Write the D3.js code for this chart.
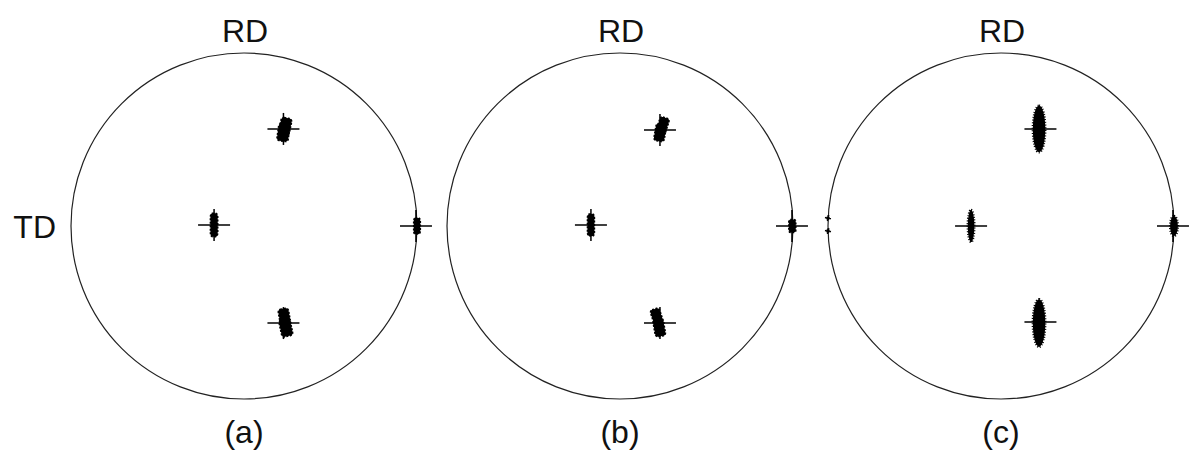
<!DOCTYPE html>
<html>
<head>
<meta charset="utf-8">
<script src="https://cdn.jsdelivr.net/npm/d3@7"></script>
<style>
body { margin: 0; background: #fff; }
text { font-family: "Liberation Sans", Arial, sans-serif; fill: #111; }
</style>
</head>
<body>
<div id="chart"></div>
<script>
let panelLabels = ["(a)", "(b)", "(c)"];
let topLabel = "RD";
let sideLabel = "TD";

// ideal pole positions (+), projection units (-1..1)
let idealA = [[-0.173, 0.006], [0.228, 0.561], [0.228, -0.561], [0.994, 0]];
let idealB = [[-0.168, 0.006], [0.231, 0.555], [0.231, -0.561], [0.994, 0]];
let idealC = [[-0.173, 0], [0.228, 0.561], [0.228, -0.555], [0.994, 0]];

// measured pole clusters: x, y, width, height, tilt (deg)
let clusterA = [
    [-0.173, 0.006, 0.042, 0.135, 0],
    [0.238, 0.575, 0.062, 0.1, 12],
    [0.228, 0.54, 0.065, 0.1, 8],
    [0.234, -0.528, 0.06, 0.1, -10],
    [0.242, -0.588, 0.065, 0.1, -12],
    [1.0, 0, 0.038, 0.092, 0]
];
let clusterB = [
    [-0.168, 0.006, 0.04, 0.127, 0],
    [0.246, 0.578, 0.055, 0.1, 18],
    [0.232, 0.54, 0.06, 0.1, 10],
    [0.214, -0.528, 0.055, 0.1, -18],
    [0.227, -0.588, 0.06, 0.1, -10],
    [0.996, 0, 0.04, 0.075, 0]
];
let clusterC = [
    [-0.173, 0, 0.038, 0.185, 0],
    [0.22, 0.561, 0.072, 0.27, 0],
    [0.22, -0.561, 0.072, 0.276, 0],
    [1.0, 0, 0.045, 0.116, 0],
    [-1.0, 0.046, 0.022, 0.022, 0],
    [-1.0, -0.029, 0.022, 0.022, 0]
];

let ideals = [idealA, idealB, idealC];
let clusters = [clusterA, clusterB, clusterC];

let width = 1192, height = 457;
let centers = [244, 620, 1001];
let cy = 226, R = 173;
let arm = 16;

let svg = d3.select("#chart").append("svg")
    .attr("width", width)
    .attr("height", height);

panelLabels.forEach((label, p) => {
    let x = d3.scaleLinear().domain([-1, 1]).range([centers[p] - R, centers[p] + R]);
    let y = d3.scaleLinear().domain([-1, 1]).range([cy + R, cy - R]);
    let g = svg.append("g");

    // net circle
    g.append("circle")
        .attr("cx", x(0))
        .attr("cy", y(0))
        .attr("r", x(1) - x(0))
        .attr("fill", "none")
        .attr("stroke", "#222")
        .attr("stroke-width", 1.2);

    // clusters
    let jagged = p == 2;
    g.selectAll(".cluster")
        .data(clusters[p])
        .join("rect")
        .attr("class", "cluster")
        .attr("x", d => -(x(d[2]) - x(0)) / 2)
        .attr("y", d => -(x(d[3]) - x(0)) / 2)
        .attr("width", d => x(d[2]) - x(0))
        .attr("height", d => x(d[3]) - x(0))
        .attr("rx", d => (x(d[2]) - x(0)) / (jagged ? 2 : 4))
        .attr("ry", d => (x(d[3]) - x(0)) / (jagged ? 2 : 6))
        .attr("transform", d => `translate(${x(d[0])},${y(d[1])}) rotate(${d[4]})`)
        .attr("fill", "#000")
        .attr("stroke", "#000")
        .attr("stroke-width", jagged ? 2.4 : 1.6)
        .attr("stroke-dasharray", jagged ? "1 1.6" : "2 1.5");

    // ideal positions
    let crosses = g.selectAll(".ideal")
        .data(ideals[p])
        .join("g")
        .attr("class", "ideal")
        .attr("transform", d => `translate(${x(d[0])},${y(d[1])})`);
    crosses.append("line")
        .attr("x1", -arm).attr("x2", arm).attr("y1", 0).attr("y2", 0)
        .attr("stroke", "#000").attr("stroke-width", 1.5);
    crosses.append("line")
        .attr("x1", 0).attr("x2", 0).attr("y1", -arm).attr("y2", arm)
        .attr("stroke", "#000").attr("stroke-width", 1.5);

    // labels
    g.append("text")
        .attr("x", x(0) + 1)
        .attr("y", y(1) - 11)
        .attr("text-anchor", "middle")
        .style("font-size", "32px")
        .text(topLabel);

    g.append("text")
        .attr("x", x(0))
        .attr("y", y(-1) + 44)
        .attr("text-anchor", "middle")
        .style("font-size", "32px")
        .text(label);

    if (p == 0) {
        g.append("text")
            .attr("x", x(-1) - 15)
            .attr("y", y(0) + 12)
            .attr("text-anchor", "end")
            .style("font-size", "32px")
            .text(sideLabel);
    }
});
</script>
</body>
</html>
